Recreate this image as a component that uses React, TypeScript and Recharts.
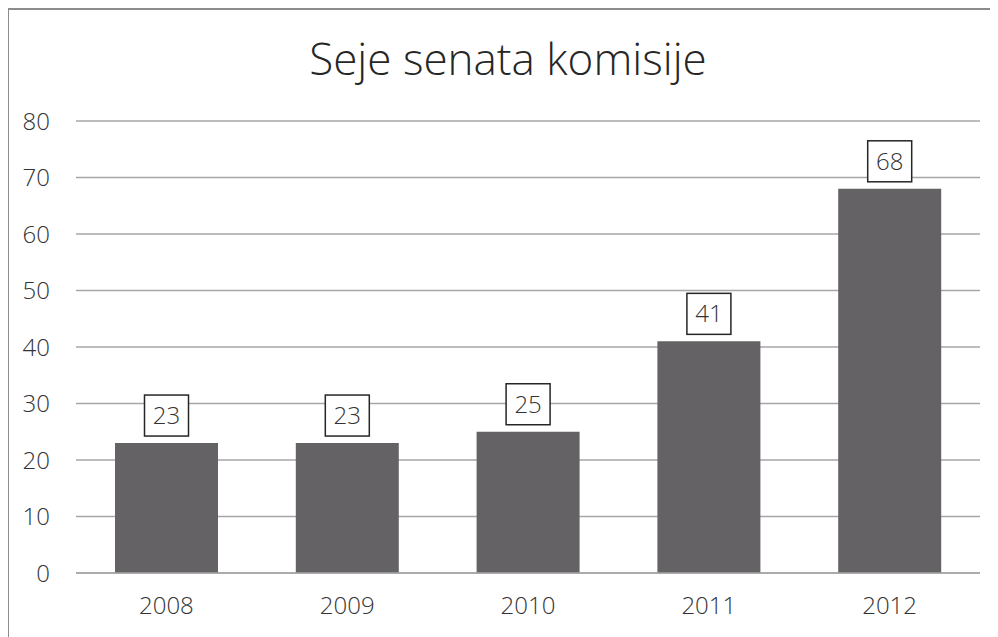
import React from 'react'
import { BarChart, Bar, XAxis, YAxis, CartesianGrid, LabelList } from 'recharts'

const years = ['2008', '2009', '2010', '2011', '2012']
const sessions = [23, 23, 25, 41, 68]
const yTicks = [0, 10, 20, 30, 40, 50, 60, 70, 80]

const data = years.map((year, i) => ({ year, value: sessions[i] }))

const FONT = '"Open Sans", "Noto Sans", sans-serif'

const BoxLabel = (props: any) => {
  const { x, y, width, value } = props
  const txt = String(value)
  const w = txt.length * 13.5 + 17
  const h = 41
  const cx = x + width / 2
  const bottom = y - 7
  return (
    <g>
      <rect x={cx - w / 2} y={bottom - h} width={w} height={h} fill="#fff" stroke="#262626" strokeWidth={1.5} />
      <text x={cx} y={bottom - h / 2} dy="0.35em" textAnchor="middle" fontSize={24} fontWeight={300} fill="#333" fontFamily={FONT}>
        {txt}
      </text>
    </g>
  )
}

export default function App() {
  return (
    <div style={{ position: 'relative', width: 990, height: 629, fontFamily: FONT }}>
      <style>{'html, body { overflow: hidden; }'}</style>
      <div style={{ position: 'absolute', left: 0, top: 22, width: 1000, textAlign: 'center', fontSize: 44, fontWeight: 300, color: '#262626', lineHeight: '56px' }}>
        Seje senata komisije
      </div>
      <BarChart
        width={990}
        height={629}
        data={data}
        margin={{ top: 113, right: 18, bottom: 24, left: 18 }}
        style={{ position: 'absolute', left: 0, top: 0 }}
      >
        <CartesianGrid vertical={false} stroke="#a6a6a6" strokeWidth={1.5} />
        <XAxis
          dataKey="year"
          height={40}
          tickLine={false}
          tickSize={0}
          tickMargin={24}
          axisLine={{ stroke: '#a6a6a6', strokeWidth: 1.5 }}
          tick={{ fontSize: 24, fill: '#333', fontFamily: FONT, fontWeight: 300 }}
        />
        <YAxis
          width={50}
          domain={[0, 80]}
          ticks={yTicks}
          interval={0}
          tickLine={false}
          axisLine={false}
          tickSize={0}
          tickMargin={26}
          tick={{ fontSize: 24, fill: '#333', fontFamily: FONT, fontWeight: 300 }}
        />
        <Bar dataKey="value" fill="#646265" barSize={103} isAnimationActive={false}>
          <LabelList dataKey="value" content={<BoxLabel />} />
        </Bar>
      </BarChart>
      <div style={{ position: 'absolute', left: -1, top: 0, width: 1000, height: 640, borderLeft: '2px solid #8c8c8c', borderTop: '2px solid #8c8c8c', boxSizing: 'border-box', pointerEvents: 'none' }} />
    </div>
  )
}
